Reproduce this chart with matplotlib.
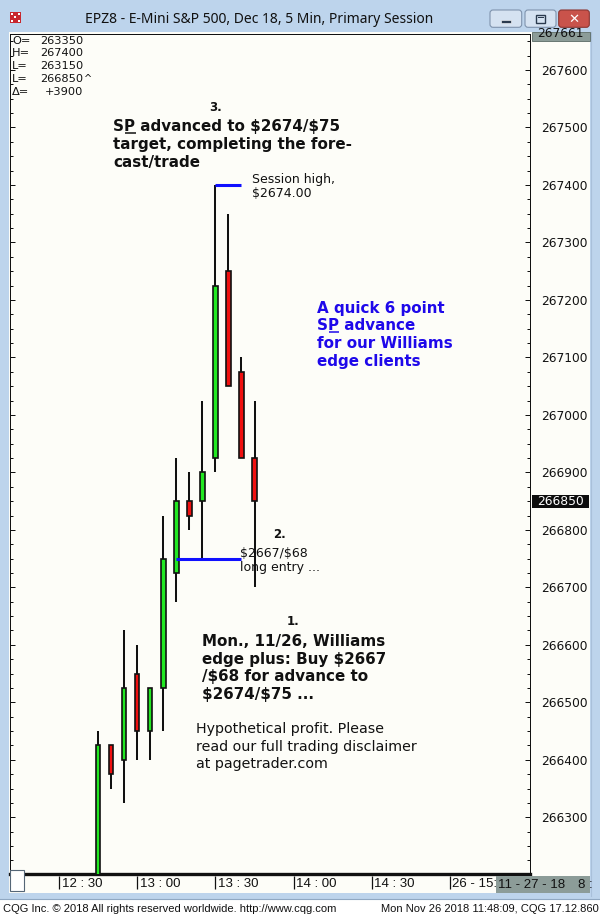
import matplotlib
matplotlib.use("Agg")
import matplotlib.pyplot as plt
from matplotlib.patches import Rectangle, FancyBboxPatch
from matplotlib.transforms import blended_transform_factory
from matplotlib.font_manager import FontProperties
from matplotlib.ticker import MultipleLocator, FuncFormatter

plt.rcParams["text.parse_math"] = False

# ---------------- data ----------------
bar_times = ["12:45", "12:50", "12:55", "13:00", "13:05", "13:10", "13:15",
             "13:20", "13:25", "13:30", "13:35", "13:40", "13:45"]
opens  = [266150, 266425, 266400, 266550, 266450, 266525, 266725,
          266850, 266850, 266925, 267250, 267075, 266925]
highs  = [266450, 266425, 266625, 266600, 266525, 266825, 266925,
          266900, 267025, 267400, 267350, 267100, 267025]
lows   = [266100, 266350, 266325, 266400, 266400, 266450, 266675,
          266800, 266750, 266900, 267050, 266925, 266700]
closes = [266425, 266375, 266525, 266450, 266525, 266750, 266850,
          266825, 266900, 267225, 267050, 266925, 266850]

time_ticks = ["12:30", "13:00", "13:30", "14:00", "14:30", "15:00"]
time_tick_labels = ["12 : 30", "13 : 00", "13 : 30", "14 : 00", "14 : 30", "26 - 15:"]

ohlc_labels = ["O=", "H=", "L=", "L=", "Δ="]
ohlc_values = ["263350", "267400", "263150", "266850", "+3900"]

entry_price = 266750
entry_start = "13:15"
line_end = "13:40"
top_box_value = "267661"
date_box_text = "11 - 27 - 18"
date_box_time = "8 :"

# ---------------- layout ----------------
W, H = 600, 917
fig = plt.figure(figsize=(W / 100, H / 100), dpi=100)
FRAME = "#bdd4ec"
CREAM = "#fdfdf8"
GREEN = "#22e822"
RED = "#f01010"
BLUE = "#1010ff"
INK = "#111111"
fig.patch.set_facecolor(FRAME)


def tmin(s):
    h, m = s.split(":")
    return (int(h) - 12) * 60 + int(m)


PX_PER_MIN = 2.6027
T_REF_PX = 59.3          # pixel position of the 12:30 tick


def px_to_min(px):
    return 30 + (px - T_REF_PX) / PX_PER_MIN


def fy(py):
    return 1 - py / H


# background / window frame
bg = fig.add_axes([0, 0, 1, 1], zorder=0)
bg.set_xlim(0, W)
bg.set_ylim(H, 0)
bg.axis("off")
bg.add_patch(Rectangle((9, 32), 581, 861, fc=CREAM, ec="none"))
bg.add_patch(Rectangle((0, 899), W, 18, fc="white", ec="none"))
bg.plot([0, W], [898.5, 898.5], color="#90a8c2", lw=0.8)
bg.plot([591, 591], [32, 896], color="#a9c0da", lw=0.8)

# main chart axes
AX_L, AX_R, AX_T, AX_B = 10, 530, 33.5, 874
ax = fig.add_axes([AX_L / W, fy(AX_B), (AX_R - AX_L) / W, (AX_B - AX_T) / H], zorder=1)
ax.set_facecolor(CREAM)
ax.set_xlim(px_to_min(AX_L), px_to_min(AX_R))
ax.set_ylim(266201.4, 267663.5)

t = [tmin(s) for s in bar_times]
bw = 4.2 / PX_PER_MIN
for ti, o, hi, lo, c in zip(t, opens, highs, lows, closes):
    ax.vlines(ti, lo, hi, color=INK, lw=1.45, zorder=2)
    col = GREEN if c >= o else RED
    ax.bar(ti, c - o, bottom=o, width=bw, color=col, edgecolor=INK,
           linewidth=1.2, zorder=3)

# blue annotation lines (session high & long entry)
hi_idx = highs.index(max(highs))
ax.hlines(max(highs), t[hi_idx], tmin(line_end), color=BLUE, lw=2.2, zorder=4)
ax.hlines(entry_price, tmin(entry_start), tmin(line_end), color=BLUE, lw=2.2, zorder=4)

ax.set_xticks([])
ax.yaxis.set_major_locator(MultipleLocator(100))
ax.yaxis.set_minor_locator(MultipleLocator(25))
ax.yaxis.set_major_formatter(FuncFormatter(lambda v, p: f"{int(round(v))}"))
ax.tick_params(axis="y", which="both", left=True, right=True, labelleft=False,
               labelright=True, direction="in", width=0.72, color=INK)
ax.tick_params(axis="y", which="major", length=3.6, pad=7.9, labelsize=8.8,
               labelcolor=INK)
ax.tick_params(axis="y", which="minor", length=2.2)
for lab in ax.get_yticklabels():
    lab.set_family("DejaVu Sans")
for side in ["left", "top", "right"]:
    ax.spines[side].set_linewidth(0.72)
    ax.spines[side].set_color(INK)
ax.spines["bottom"].set_linewidth(2.4)
ax.spines["bottom"].set_color(INK)

# time strip
tax = fig.add_axes([AX_L / W, fy(893), (590 - AX_L) / W, 17 / H], zorder=1)
tax.set_xlim(px_to_min(AX_L), px_to_min(590))
tax.set_ylim(0, 1)
tax.axis("off")
for s, lab in zip(time_ticks, time_tick_labels):
    x = tmin(s)
    tax.vlines(x, 0.24, 1.0, color=INK, lw=0.9)
    tax.text(x + 2.5 / PX_PER_MIN, 0.33, lab, ha="left", va="baseline",
             fontsize=9.5, family="Liberation Sans", color=INK)

# overlay (pixel coordinates)
ov = fig.add_axes([0, 0, 1, 1], zorder=3)
ov.set_xlim(0, W)
ov.set_ylim(H, 0)
ov.axis("off")

# title bar
ov.text(259.5, 19.5, "EPZ8 - E-Mini S&P 500, Dec 18, 5 Min, Primary Session",
        ha="center", va="center", fontsize=10, family="Noto Sans", color=INK)
# app icon
ov.add_patch(Rectangle((10, 12), 11, 11, fc="#c8282e", ec="none"))
for ix in range(3):
    for iy in range(3):
        if (ix + iy) % 2 == 0:
            ov.add_patch(Rectangle((11 + ix * 3.4, 13 + iy * 3.4), 2, 2, fc="white", ec="none"))
# window buttons
for x0, x1, fc, ec in [(490, 521.7, "#d5e2f1", "#7f93ad"),
                       (525, 556, "#d5e2f1", "#7f93ad"),
                       (558.7, 589.3, "#c9534b", "#8b3531")]:
    ov.add_patch(FancyBboxPatch((x0, 10), x1 - x0, 17.3,
                                boxstyle="round,pad=0,rounding_size=3",
                                fc=fc, ec=ec, lw=0.8))
ov.add_patch(Rectangle((501, 19.5), 10, 3.2, fc="#2b3a4e", ec="#ffffff", lw=0.4))
ov.add_patch(Rectangle((536, 14.5), 9, 8, fc="none", ec="#2b3a4e", lw=1.0))
ov.add_patch(Rectangle((537.5, 16.5), 6, 1.5, fc="#2b3a4e", ec="none"))
ov.text(574, 19, "✕", ha="center", va="center", fontsize=9.5, fontweight="bold",
        color="white", family="DejaVu Sans")

# top gray box
tbox = Rectangle((531.7, 32), 58.3, 8.7, fc="#8c9c98", ec="#5a6a66", lw=0.6)
ov.add_patch(tbox)
tt = ov.text(560.8, 37, top_box_value, ha="center", va="baseline", fontsize=8.8,
             family="DejaVu Sans", color=INK)
tt.set_clip_path(tbox)

# last price highlight
last = closes[-1]
ax_h_px = AX_B - AX_T
px_per_unit = ax_h_px / (ax.get_ylim()[1] - ax.get_ylim()[0])
bt = blended_transform_factory(ov.transData, ax.transData)
ov.add_patch(Rectangle((531.7, last - 6.5 / px_per_unit), 57.6, 13 / px_per_unit,
                       fc="#0d0d0d", ec="none", transform=bt, clip_on=False, zorder=5))
ov.text(560.5, last, f"{last}", transform=bt, ha="center", va="center",
        fontsize=8.8, family="DejaVu Sans", color="white", zorder=6)

# bottom gray date box
dbox = Rectangle((496.4, 876), 93.6, 17, fc="#8c9c98", ec="none")
ov.add_patch(dbox)
ov.text(497.5, 887.5, date_box_text, ha="left", va="baseline", fontsize=9.5,
        family="Liberation Sans", color=INK)
dt = ov.text(577.5, 887.5, date_box_time, ha="left", va="baseline", fontsize=9.5,
             family="Liberation Sans", color=INK)
dt.set_clip_path(dbox)

# bottom-left small box
ov.add_patch(Rectangle((9.5, 870), 14.5, 20.5, fc="white", ec="#556677", lw=0.8))

# OHLC block
for i, (lab, val) in enumerate(zip(ohlc_labels, ohlc_values)):
    yb = 43.5 + i * 12.85
    ov.text(12, yb, lab, ha="left", va="baseline", fontsize=8.2, family="DejaVu Sans", color=INK)
    ov.text(83, yb, val, ha="right", va="baseline", fontsize=8.2, family="DejaVu Sans", color=INK)
    if i == 3:
        ov.text(83.5, yb, "^", ha="left", va="baseline", fontsize=7, family="DejaVu Sans", color=INK)

renderer = fig.canvas.get_renderer()
BOLD = FontProperties(family="DejaVu Sans", weight="bold", size=10.9)


def tw(s, fp):
    w, h, d = renderer.get_text_width_height_descent(s, fp, ismath=False)
    return w


def bold_lines(x, y0, lines, color=INK, dy=17.9):
    for k, ln in enumerate(lines):
        ov.text(x, y0 + k * dy, ln, ha="left", va="baseline", fontproperties=BOLD, color=color)


def underline_P(x, yb, color):
    x0 = x + tw("S", BOLD) + 0.8
    x1 = x + tw("SP", BOLD) + 0.5
    ov.plot([x0, x1], [yb + 1.8, yb + 1.8], color=color, lw=1.1, solid_capstyle="butt")


# annotation 3
ov.text(215.7, 111, "3.", ha="center", va="baseline", fontsize=8.5, fontweight="bold",
        family="DejaVu Sans", color=INK)
bold_lines(113, 131, ["SP advanced to $2674/$75", "target, completing the fore-", "cast/trade"])
underline_P(113, 131, INK)
ov.text(251.7, 183.5, "Session high,", ha="left", va="baseline", fontsize=9,
        family="DejaVu Sans", color=INK)
ov.text(251.7, 197.3, "$2674.00", ha="left", va="baseline", fontsize=9,
        family="DejaVu Sans", color=INK)

# blue note
BLUE_TXT = "#1e08ea"
bold_lines(316.7, 312.7, ["A quick 6 point", "SP advance", "for our Williams", "edge clients"],
           color=BLUE_TXT, dy=17.8)
underline_P(316.7, 312.7 + 17.8, BLUE_TXT)

# annotation 2
ov.text(280, 538.3, "2.", ha="center", va="baseline", fontsize=8.5, fontweight="bold",
        family="DejaVu Sans", color=INK)
ov.text(240, 556.7, "$2667/$68", ha="left", va="baseline", fontsize=9,
        family="DejaVu Sans", color=INK)
ov.text(240, 570.7, "long entry ...", ha="left", va="baseline", fontsize=9,
        family="DejaVu Sans", color=INK)

# annotation 1
ov.text(293.3, 625, "1.", ha="center", va="baseline", fontsize=8.5, fontweight="bold",
        family="DejaVu Sans", color=INK)
bold_lines(201.7, 645.7, ["Mon., 11/26, Williams", "edge plus: Buy $2667",
                          "/$68 for advance to", "$2674/$75 ..."])

# disclaimer
for k, ln in enumerate(["Hypothetical profit. Please", "read our full trading disclaimer",
                        "at pagetrader.com"]):
    ov.text(195.7, 733.3 + k * 17.5, ln, ha="left", va="baseline", fontsize=10.3,
            family="DejaVu Sans", color=INK)

# footer
ov.text(3, 911.5, "CQG Inc. © 2018 All rights reserved worldwide. http://www.cqg.com",
        ha="left", va="baseline", fontsize=8, family="Liberation Sans", color=INK)
ov.text(599, 911.5, "Mon Nov 26 2018 11:48:09, CQG 17.12.860",
        ha="right", va="baseline", fontsize=8, family="Liberation Sans", color=INK)

fig.savefig("out.png", dpi=100, facecolor=fig.get_facecolor())
